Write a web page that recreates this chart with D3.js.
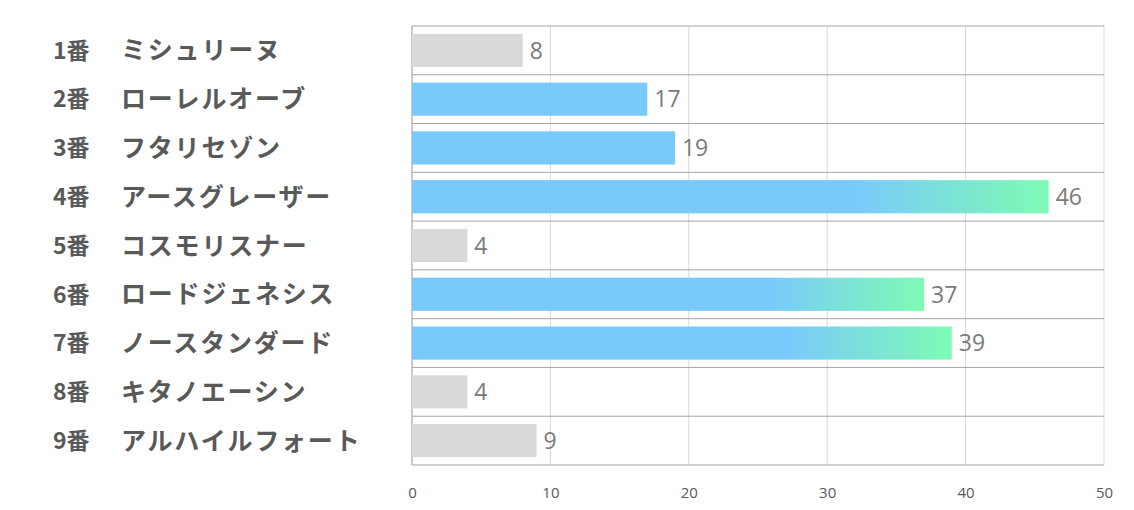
<!DOCTYPE html>
<html>
<head>
<meta charset="utf-8">
<script src="https://cdn.jsdelivr.net/npm/d3@7"></script>
<style>
  body { margin: 0; background: #fff; }
  svg { display: block; }
</style>
</head>
<body>
<div id="chart"></div>
<script>
// horse numbers and names
const nums = ["1番", "2番", "3番", "4番", "5番", "6番", "7番", "8番", "9番"];
const names = ["ミシュリーヌ", "ローレルオーブ", "フタリセゾン", "アースグレーザー", "コスモリスナー",
  "ロードジェネシス", "ノースタンダード", "キタノエーシン", "アルハイルフォート"];
const values = [8, 17, 19, 46, 4, 37, 39, 4, 9];
// 0 = gray, 1 = blue, 2 = blue->green
const kinds = [0, 1, 1, 2, 0, 2, 2, 0, 0];
const ticks = [0, 10, 20, 30, 40, 50];

const W = 1134, H = 510;
const margin = {top: 26, right: 30, bottom: 45, left: 412};
const width = W - margin.left - margin.right;
const height = H - margin.top - margin.bottom;

const svg = d3.select("#chart").append("svg")
  .attr("width", W).attr("height", H);

const defs = svg.append("defs");
const grad = defs.append("linearGradient").attr("id", "grad")
  .attr("x1", "0").attr("x2", "1").attr("y1", "0").attr("y2", "0");
grad.append("stop").attr("offset", "0.69").attr("stop-color", "#79c9fd");
grad.append("stop").attr("offset", "1").attr("stop-color", "#7efbb4");

const g = svg.append("g").attr("transform", "translate(" + margin.left + "," + margin.top + ")");

const x = d3.scaleLinear().domain([0, 50]).range([0, width]);
const y = d3.scaleBand().domain(d3.range(nums.length)).range([0, height]).paddingInner(0.32).paddingOuter(0.16);
const rows = d3.scaleBand().domain(d3.range(nums.length)).range([0, height]);

// vertical grid
g.append("g").selectAll("line").data(ticks).enter().append("line")
  .attr("x1", d => x(d)).attr("x2", d => x(d))
  .attr("y1", 0).attr("y2", height)
  .style("stroke", "#d9d9d9").style("stroke-width", 1);

// horizontal row separators
g.append("g").selectAll("line").data(d3.range(nums.length + 1)).enter().append("line")
  .attr("x1", 0).attr("x2", width)
  .attr("y1", d => d < nums.length ? rows(d) : height)
  .attr("y2", d => d < nums.length ? rows(d) : height)
  .style("stroke", "#a6a6a6").style("stroke-width", 1);

// left axis line
g.append("line").attr("x1", 0).attr("x2", 0).attr("y1", 0).attr("y2", height)
  .style("stroke", "#a6a6a6");

const fills = ["#d9d9d9", "#79c9fd", "url(#grad)"];
g.append("g").selectAll("rect").data(values).enter().append("rect")
  .attr("x", 0)
  .attr("y", (d, i) => y(i))
  .attr("width", d => x(d))
  .attr("height", y.bandwidth())
  .style("fill", (d, i) => fills[kinds[i]]);

// value labels
g.append("g").selectAll("text").data(values).enter().append("text")
  .attr("x", d => x(d) + 7)
  .attr("y", (d, i) => y(i) + y.bandwidth() / 2)
  .attr("dy", "0.36em")
  .style("font-family", "'Open Sans', sans-serif")
  .style("font-size", "23px")
  .style("fill", "#7a7a7a")
  .text(d => d);

// category labels
const lab = svg.append("g")
  .style("font-family", "'Noto Sans CJK JP', sans-serif")
  .style("font-weight", "bold")
  .style("fill", "#595959");
lab.selectAll("text.num").data(nums).enter().append("text").attr("class", "num")
  .attr("x", 53)
  .attr("y", (d, i) => margin.top + rows(i) + rows.bandwidth() / 2)
  .attr("dy", "0.36em")
  .style("font-size", "23px")
  .text(d => d);
lab.selectAll("text.name").data(names).enter().append("text").attr("class", "name")
  .attr("x", 121)
  .attr("y", (d, i) => margin.top + rows(i) + rows.bandwidth() / 2)
  .attr("dy", "0.36em")
  .style("font-size", "25px")
  .style("letter-spacing", "1.8px")
  .text(d => d);

// x axis ticks
const xAxis = g.append("g").attr("transform", "translate(0," + height + ")")
  .call(d3.axisBottom(x).tickValues(ticks).tickSize(0).tickPadding(22));
xAxis.select(".domain").remove();
xAxis.selectAll("text")
  .style("font-family", "'Open Sans', sans-serif")
  .style("font-size", "15px")
  .style("fill", "#595959");
</script>
</body>
</html>
